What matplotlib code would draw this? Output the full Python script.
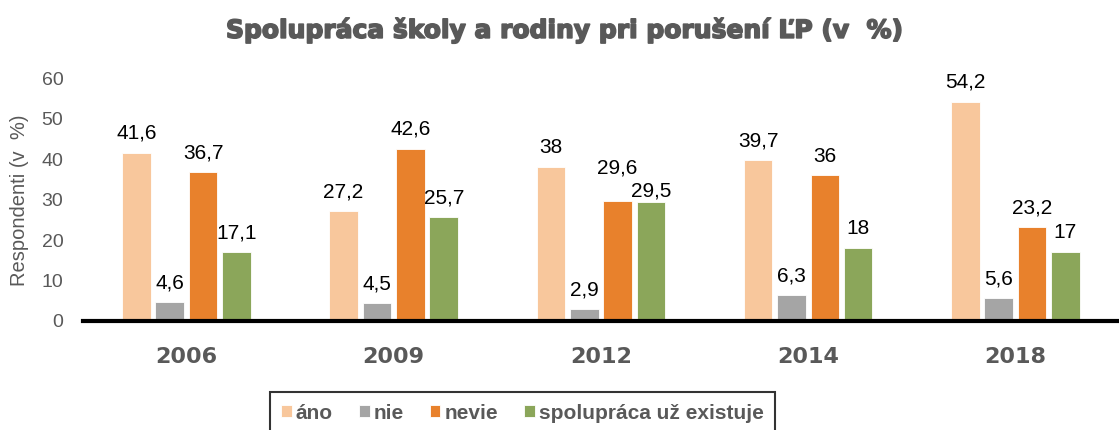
import matplotlib.pyplot as plt
import matplotlib.patheffects as pe
import numpy as np

years = ['2006', '2009', '2012', '2014', '2018']
ano = [41.6, 27.2, 38, 39.7, 54.2]
nie = [4.6, 4.5, 2.9, 6.3, 5.6]
nevie = [36.7, 42.6, 29.6, 36, 23.2]
spolupraca = [17.1, 25.7, 29.5, 18, 17]

labels = ['áno', 'nie', 'nevie', 'spolupráca už existuje']
colors = ['#F8C79C', '#A5A5A5', '#E8812C', '#8BA65A']
series = [ano, nie, nevie, spolupraca]

gray = '#595959'
plt.rcParams['font.family'] = ['Liberation Sans', 'DejaVu Sans']

fig = plt.figure(figsize=(11.19, 4.30), dpi=100)
ax = fig.add_axes([0.074, 0.2535, 0.926, 0.565])

x = np.arange(len(years))
width = 0.138
step = 0.161
offsets = [-1.5 * step, -0.5 * step, 0.5 * step, 1.5 * step]

# labels that would collide (2012: nevie vs spolupraca) get pushed apart
nudge = {(2, 2): 10, (3, 2): -6}


def fmt(v):
    return ('%g' % v).replace('.', ',')


for i, (vals, off, col, lab) in enumerate(zip(series, offsets, colors, labels)):
    bars = ax.bar(x + off, vals, width, color=col, label=lab, edgecolor='white', linewidth=0.6)
    for j, (b, v) in enumerate(zip(bars, vals)):
        dy = 7 + nudge.get((i, j), 0)
        ax.annotate(fmt(v), (b.get_x() + b.get_width() / 2, v), xytext=(0, dy),
                    textcoords='offset points', ha='center', va='bottom',
                    fontsize=15, color='black')

ax.set_xlim(-0.5, 4.5)
ax.set_ylim(0, 60)
ax.set_yticks(range(0, 61, 10))
ax.set_xticks(x)
ax.set_xticklabels(years, fontsize=16, fontweight='bold', color=gray, family='DejaVu Sans')
ax.tick_params(axis='x', length=0, pad=19)
ax.tick_params(axis='y', length=0, labelsize=14, labelcolor=gray, pad=14)

for s in ['top', 'right', 'left']:
    ax.spines[s].set_visible(False)
ax.spines['bottom'].set_linewidth(3)
ax.spines['bottom'].set_color('black')

fig.text(20 / 1119, 0.535, 'Respondenti (v  %)', rotation=90, ha='center', va='center',
         fontsize=14.5, color=gray)

title = fig.text(0.505, 0.93, 'Spolupráca školy a rodiny pri porušení ĽP (v  %)',
                 ha='center', va='center', fontsize=18, fontweight='bold', color=gray,
                 family='DejaVu Sans')
title.set_path_effects([pe.withStroke(linewidth=1.2, foreground=gray)])

leg = ax.legend(loc='upper center', bbox_to_anchor=(0.467, 0.088), bbox_transform=fig.transFigure,
                ncol=4, frameon=True, fancybox=False, fontsize=15,
                handlelength=0.5, handleheight=0.5, handletextpad=0.2, columnspacing=1.25,
                borderpad=0.55, borderaxespad=0)
leg.get_frame().set_edgecolor('black')
leg.get_frame().set_linewidth(1.5)
for t in leg.get_texts():
    t.set_color(gray)
    t.set_fontweight('bold')

fig.savefig('out.png', dpi=100)
